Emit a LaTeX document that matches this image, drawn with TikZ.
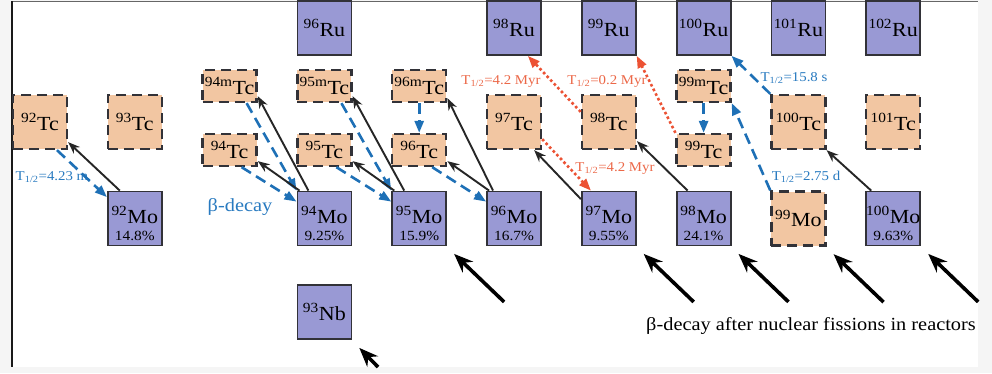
\documentclass[tikz,border=0pt]{standalone}
\usepackage{fontspec}
\usepackage{graphicx}
\usepackage{tikz}
\setmainfont{Liberation Serif}
\newcommand{\ncw}[1]{\scalebox{1.1}[1]{#1}}
\newcommand{\nuc}[2]{\ncw{\textsuperscript{#1}#2}}
\newcommand{\nchalf}{T\textsubscript{1/2}}
\newcommand{\ncpct}[1]{\ncw{\fontsize{14}{15}\selectfont #1\%}}
\usetikzlibrary{arrows.meta}
\definecolor{ncedge}{RGB}{50,50,56}
\definecolor{ncmofill}{RGB}{153,153,212}
\definecolor{nctcfill}{RGB}{242,198,162}
\definecolor{ncblue}{RGB}{30,112,182}
\definecolor{ncbluetxt}{RGB}{40,122,192}
\definecolor{ncred}{RGB}{236,82,52}
\definecolor{ncredtxt}{RGB}{236,104,72}
\definecolor{ncframe}{RGB}{245,245,245}
\tikzset{
  ncbig/.style={font=\fontsize{20}{20}\selectfont, inner sep=0pt},
  nctext/.style={font=\fontsize{18.5}{19}\selectfont, inner sep=0pt},
  ncstab/.style={ncbig, draw=ncedge, line width=1.8pt, fill=ncmofill, minimum width=54pt, minimum height=54pt},
  ncstabmo/.style={ncstab, align=center, text height=45pt, text depth=2pt},
  ncunst/.style={ncbig, draw=ncedge, line width=2.3pt, dash pattern=on 10pt off 6pt, fill=nctcfill, minimum width=54pt, minimum height=54pt},
  ncunsts/.style={ncunst, minimum height=32pt},
  nclab/.style={font=\fontsize{13.5}{14}\selectfont, inner sep=0pt},
  ncbeta/.style={-{Triangle[length=12pt,width=9pt]}, line width=2.6pt, draw=ncblue, dash pattern=on 11pt off 6pt},
  ncec/.style={-{Stealth[length=12pt,width=9pt]}, line width=1.9pt, draw=black!85},
  ncslow/.style={-{Triangle[length=12pt,width=9pt]}, line width=2.6pt, draw=ncred, dash pattern=on 2.6pt off 2.6pt},
  ncfis/.style={-{Stealth[length=19pt,width=15pt]}, line width=3.6pt, draw=black}
}

\begin{document}
\begin{tikzpicture}[x=1pt, y=-1pt]
  \useasboundingbox (0,0) rectangle (992,373);
  \fill[ncframe] (0,0) rectangle (992,373);
  \fill[white] (11,1.5) rectangle (978,367);
  \draw[black!60, line width=1pt] (11,1.5) -- (978,1.5);
  \draw[black!90, line width=2pt] (11.5,1) -- (11.5,367);

  % stable nuclides
  \foreach \a/\x in {96/324.4,98/514,99/608.8,100/703.6,101/798.4,102/893.2}
    \node[ncstab] (ru\a) at (\x,28) {\nuc{\a}{Ru}};
  \foreach \a/\x/\p in {92/134.8/14.8,94/324.4/9.25,95/419.2/15.9,96/514/16.7,97/608.8/9.55,98/703.6/24.1,100/893.2/9.63}
    \node[ncstabmo] (mo\a) at (\x,218.5) {\nuc{\a}{Mo}\\[-3pt]\ncpct{\p}};
  \node[ncstab] (nb93) at (324.4,312) {\nuc{93}{Nb}};

  % unstable nuclides
  \foreach \a/\x in {92/40,93/134.8,97/514,98/608.8,100/798.4,101/893.2}
    \node[ncunst] (tc\a) at (\x,122) {\nuc{\a}{Tc}};
  \foreach \a/\x/\y in {94m/229.6/86,94/229.6/150,95m/324.4/86,95/324.4/150,96m/419.2/86,96/419.2/150,99m/703.6/86,99/703.6/150}
    \node[ncunsts] (tc\a) at (\x,\y) {\nuc{\a}{Tc}};
  \node[ncunst] (mo99) at (798.4,218.5) {\nuc{99}{Mo}};

  % half-lives
  \node[nclab, text=ncbluetxt] (hl92) at (52,177) {\ncw{\nchalf=4.23 m}};
  \node[nclab, text=ncredtxt] (hl98) at (501,81) {\ncw{\nchalf=4.2 Myr}};
  \node[nclab, text=ncredtxt] (hl99) at (607,81) {\ncw{\nchalf=0.2 Myr}};
  \node[nclab, text=ncredtxt] (hl97) at (615,168) {\ncw{\nchalf=4.2 Myr}};
  \node[nclab, text=ncbluetxt] (hl100) at (794,78) {\ncw{\nchalf=15.8 s}};
  \node[nclab, text=ncbluetxt] (hl99mo) at (806,177) {\ncw{\nchalf=2.75 d}};
  \node[nctext, text=ncbluetxt] (beta) at (240,207) {\ncw{β-decay}};
  \node[nctext] (fission) at (811,326) {\ncw{β-decay after nuclear fissions in reactors}};

  % A = 92
  \draw[ncbeta] ([xshift=17pt]tc92.south) -- ([yshift=-6.5pt]mo92.north west);
  \draw[ncec] ([xshift=-15pt]mo92.north) -- ([yshift=8pt]tc92.south east);
  % A = 94, 95
  \draw[ncbeta] ([xshift=17pt]tc94m.south) -- (mo94.north west);
  \draw[ncbeta] ([xshift=12pt]tc94.south) -- ([yshift=-11pt]mo94.north west);
  \draw[ncec] ([xshift=-16pt]mo94.north) -- ([yshift=7pt]tc94m.south east);
  \draw[ncec] ([xshift=3pt]mo94.north west) -- ([yshift=6pt]tc94.south east);
  \draw[ncbeta] ([xshift=17pt]tc95m.south) -- (mo95.north west);
  \draw[ncbeta] ([xshift=12pt]tc95.south) -- ([yshift=-11pt]mo95.north west);
  \draw[ncec] ([xshift=-15pt]mo95.north) -- ([yshift=7pt]tc95m.south east);
  \draw[ncec] ([xshift=3pt]mo95.north west) -- ([yshift=6pt]tc95.south east);
  % A = 96
  \draw[ncbeta] (tc96m.south) -- (tc96.north);
  \draw[ncbeta] ([xshift=13pt]tc96.south) -- ([yshift=-11pt]mo96.north west);
  \draw[ncec] ([xshift=3pt]mo96.north west) -- ([yshift=6pt]tc96.south east);
  \draw[ncec] ([xshift=-21pt]mo96.north) -- ([yshift=5pt]tc96m.south east);
  % A = 97, 98, 99
  \draw[ncec] ([yshift=-8.5pt]mo97.north west) -- ([xshift=-8pt]tc97.south east);
  \draw[ncslow] ([yshift=11pt]tc97.south east) -- ([xshift=10pt]mo97.north west);
  \draw[ncslow] ([yshift=-18pt]tc98.north west) -- ([xshift=-14pt]ru98.south east);
  \draw[ncec] ([xshift=-16pt]mo98.north) -- ([yshift=9pt]tc98.south east);
  \draw[ncslow] (tc99.north west) -- (ru99.south east);
  \draw[ncbeta] (tc99m.south) -- (tc99.north);
  \draw[ncbeta] (mo99.north west) -- (tc99m.south east);
  % A = 100
  \draw[ncbeta] (tc100.north west) -- (ru100.south east);
  \draw[ncec] ([xshift=6pt]mo100.north west) -- (tc100.south east);

  % fission products
  \foreach \a in {95,97,98,99,100} {
    \coordinate (f\a) at ([xshift=57pt,yshift=-55.5pt]mo\a.south east);
    \draw[ncfis] (f\a) -- ([xshift=7pt,yshift=-7.5pt]mo\a.south east);
  }
  \coordinate (f93) at (378,367);
  \draw[ncfis] (f93) -- ([xshift=7pt,yshift=-8pt]nb93.south east);
\end{tikzpicture}
\end{document}
